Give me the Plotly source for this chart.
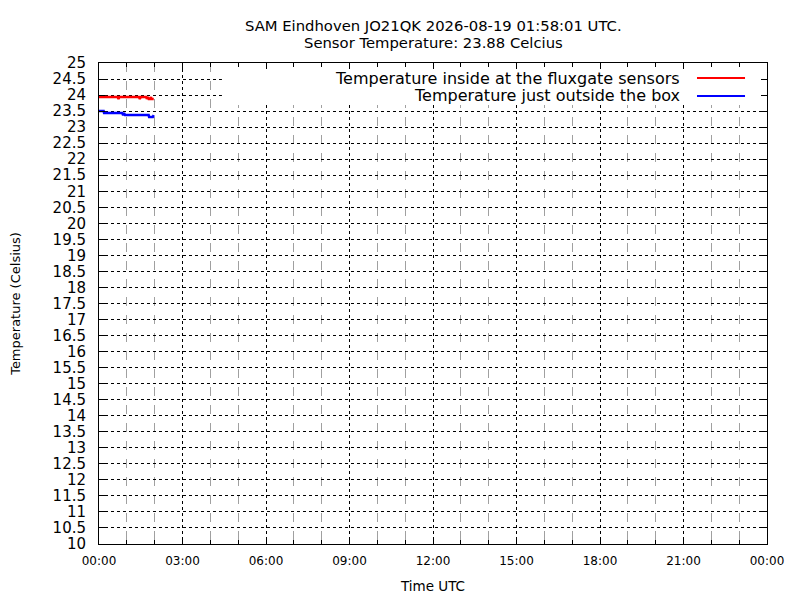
import pandas as pd
import plotly.graph_objects as go

# minutes after midnight UTC, sensor readings (DS18B20 steps of 0.0625)
inside_min = [0, 40, 42, 44, 86, 88, 90, 102, 103, 105, 107, 110, 112, 113, 118]
inside_val = [23.9375, 23.9375, 23.875, 23.9375, 23.9375, 23.875, 23.9375, 23.9375,
              23.875, 23.9375, 23.875, 23.875, 23.9375, 23.875, 23.875]

outside_min = [0, 10, 11, 50, 52, 54, 56, 60, 107, 108, 116, 118]
outside_val = [23.5, 23.5, 23.4375, 23.4375, 23.375, 23.4375, 23.375, 23.375,
               23.375, 23.3125, 23.3125, 23.375]

day = pd.Timestamp("2026-08-19 00:00:00")
legend_names = ["Temperature inside at the fluxgate sensors", "Temperature just outside the box"]
colors = ["#ff0000", "#0000ff"]
title_lines = ["SAM Eindhoven JO21QK 2026-08-19 01:58:01 UTC.",
               "Sensor Temperature: 23.88 Celcius"]

def to_time(mins):
    return [day + pd.Timedelta(minutes=m) for m in mins]

fig = go.Figure()
fig.add_trace(go.Scatter(x=to_time(inside_min), y=inside_val, mode="lines",
                         line=dict(color=colors[0], width=2.5), name=legend_names[0]))
fig.add_trace(go.Scatter(x=to_time(outside_min), y=outside_val, mode="lines",
                         line=dict(color=colors[1], width=2.5), name=legend_names[1]))

fnt = "DejaVu Sans"

# page body has an 8px margin, so the figure is nudged up/left to match the png
fig.update_layout(
    width=800, height=600,
    margin=dict(l=91, r=41, t=55, b=64),
    paper_bgcolor="white", plot_bgcolor="white",
    showlegend=False,
    font=dict(family=fnt, color="black"),
)

fig.update_xaxes(
    type="date", automargin=False,
    range=[day, day + pd.Timedelta(hours=24)],
    dtick=3 * 3600000, tick0=day, tickformat="%H:%M",
    ticks="inside", ticklen=6, tickcolor="black", ticklabelstandoff=6,
    showline=True, linecolor="black", linewidth=1, mirror="allticks",
    showgrid=True, gridcolor="black", griddash="dot", gridwidth=1,
    minor=dict(dtick=3600000, tick0=day, ticks="inside", ticklen=4, tickcolor="black",
               showgrid=True, gridcolor="#a0a0a0", griddash="dash", gridwidth=1),
    tickfont=dict(size=12),
    title=dict(text="Time UTC", font=dict(size=13.5), standoff=14),
    zeroline=False,
)
fig.update_yaxes(
    automargin=False,
    range=[10, 25], dtick=0.5, tick0=10,
    ticks="inside", ticklen=6, tickcolor="black", ticklabelstandoff=9,
    showline=True, linecolor="black", linewidth=1, mirror="allticks",
    showgrid=True, gridcolor="black", griddash="dot", gridwidth=1,
    tickfont=dict(size=15),
    title=dict(text="Temperature (Celsius)", font=dict(size=13), standoff=34),
    zeroline=False,
)

for txt, ty in zip(title_lines, [1.0790, 1.0436]):
    fig.add_annotation(text=txt, xref="paper", yref="paper", x=0.5, y=ty,
                       xanchor="center", yanchor="middle", showarrow=False,
                       font=dict(family=fnt, size=14.8, color="black"))

# white key box like gnuplot's, hiding the grid behind the key text
fig.add_shape(type="rect", xref="x", yref="y",
              x0=day + pd.Timedelta(minutes=265), x1=day + pd.Timedelta(hours=24),
              y0=23.69, y1=25, fillcolor="white", line=dict(width=0), layer="between")

key_y = [0.9688, 0.9314]
for name, col, ky in zip(legend_names, colors, key_y):
    fig.add_annotation(text=name, xref="paper", yref="paper", x=0.8728, y=ky,
                       xanchor="right", yanchor="middle", showarrow=False,
                       font=dict(family=fnt, size=16, color="black"))
    fig.add_shape(type="line", xref="paper", yref="paper", x0=0.8952, x1=0.9671,
                  y0=ky, y1=ky, line=dict(color=col, width=2))

fig.write_html("out.html")
